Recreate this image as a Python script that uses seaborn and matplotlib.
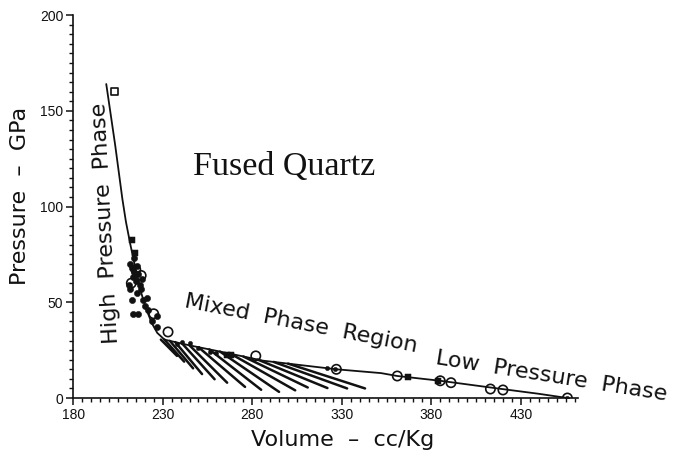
import numpy as np
import pandas as pd
import matplotlib
matplotlib.use("Agg")
import matplotlib.pyplot as plt
import seaborn as sns

# ---------------- data ----------------
hp_curve_v = [198.5, 201, 203.5, 205.5, 207.5, 209.5, 212, 215, 218, 221, 224, 227, 231]
hp_curve_p = [164, 148, 132, 118, 104, 92, 80, 67, 55, 46, 39, 34, 30.5]

lp_curve_v = [231, 245, 266, 286, 327, 352, 361, 385, 417, 440, 456]
lp_curve_p = [30.5, 27.5, 23.5, 19.5, 15, 13, 11.5, 9, 5, 2.2, 0]

# tie lines in the mixed-phase region: start volume on the curve, end point
hatch_v0 = [229, 231, 234, 237, 241, 245, 250, 256, 262, 268, 275, 283, 292, 300]
hatch_v1 = [238, 242, 247, 252, 259, 266, 276, 285, 295, 304, 311, 322, 333, 343]
hatch_p1 = [22, 19, 15.5, 12.5, 9.8, 8, 5.8, 4.3, 3.2, 4, 5.5, 5.2, 5, 5]

open_v = [233, 282, 327, 361, 385, 391, 413, 420, 456, 215, 218, 225, 212.5]
open_p = [34.5, 22, 15, 11.5, 9, 8, 4.7, 4.2, 0, 67, 64, 44, 60]

hp_dots_v = [212, 213, 214, 215.5, 216.5, 213.5, 215, 211, 212, 217.4, 218, 215.8,
             213, 219, 220, 222, 213.5, 216, 227, 227, 224, 221, 218.5, 214]
hp_dots_p = [70, 68, 66, 69, 65, 63, 61, 59, 57, 59, 57, 55,
             51, 51, 48, 46, 44, 44, 43, 37, 40, 52, 62, 73]

mix_dots_v = [238, 241, 245, 250, 256.5, 260, 322, 326, 456]
mix_dots_p = [28, 29, 28.7, 26, 24, 23.5, 15.6, 15, 0]

fsq_v = [213, 214.6, 266, 268, 367, 384]
fsq_p = [82.5, 76, 22.5, 22.3, 11, 9]

osq_v = [203]
osq_p = [160]

x_ticks = [180, 230, 280, 330, 380, 430]
y_ticks = [0, 50, 100, 150, 200]

# ---------------- figure ----------------
sns.set_theme(style="white")
plt.rcParams['font.family'] = ['DejaVu Sans']

fig = plt.figure(figsize=(6.77, 4.51), dpi=100)
ax = fig.add_axes([0.108, 0.1175, 0.746, 0.849])

ink = "#111111"

sns.lineplot(x=hp_curve_v, y=hp_curve_p, sort=False, color=ink, lw=1.3, ax=ax)
sns.lineplot(x=lp_curve_v, y=lp_curve_p, sort=False, color=ink, lw=1.3, ax=ax)

hatch_p0 = np.interp(hatch_v0, lp_curve_v, lp_curve_p)
rows = []
for i, (a, b, c, d) in enumerate(zip(hatch_v0, hatch_p0, hatch_v1, hatch_p1)):
    rows.append(dict(u=i, v=a, p=b))
    rows.append(dict(u=i, v=c, p=d))
hdf = pd.DataFrame(rows)
sns.lineplot(data=hdf, x="v", y="p", units="u", estimator=None, sort=False,
             color=ink, lw=1.8, ax=ax)

sns.scatterplot(x=hp_dots_v, y=hp_dots_p, s=20, color=ink, edgecolor=ink, ax=ax)
sns.scatterplot(x=mix_dots_v, y=mix_dots_p, s=10, color=ink, edgecolor=ink, ax=ax)
sns.scatterplot(x=fsq_v, y=fsq_p, s=20, marker="s", color=ink, edgecolor=ink, ax=ax)
sns.scatterplot(x=open_v, y=open_p, s=45, marker="o", facecolor="none",
                edgecolor=ink, linewidth=1.2, ax=ax)
sns.scatterplot(x=osq_v, y=osq_p, s=30, marker="s", facecolor="none",
                edgecolor=ink, linewidth=1.2, ax=ax)

ax.set_xlim(180, 462)
ax.set_ylim(0, 200)
ax.set_xticks(x_ticks)
ax.set_yticks(y_ticks)
ax.set_xticks(np.arange(180, 462, 5), minor=True)
ax.set_yticks(np.arange(0, 201, 5), minor=True)
ax.set_xticklabels([str(t) for t in x_ticks], fontsize=10, family="Liberation Sans")
ax.set_yticklabels([str(t) for t in y_ticks], fontsize=10, family="Liberation Sans")
ax.tick_params(which="major", direction="out", length=5, width=1.1, color=ink,
               left=True, bottom=True, pad=2, labelcolor=ink)
ax.tick_params(which="minor", direction="out", length=3, width=1.0, color=ink,
               left=True, bottom=True)
sns.despine(ax=ax)
for s in ("left", "bottom"):
    ax.spines[s].set_color(ink)
    ax.spines[s].set_linewidth(1.2)

ax.set_xlabel("Volume  –  cc/Kg", fontsize=16, color=ink)
ax.set_ylabel("Pressure  –  GPa", fontsize=16, color=ink)
ax.xaxis.set_label_coords(0.533, -0.083)
ax.yaxis.set_label_coords(-0.085, 0.527)

ax.text(247, 121, "Fused Quartz", fontsize=24.5, family="Liberation Serif",
        ha="left", va="center", color=ink)
ax.text(198.4, 91.4, "High  Pressure  Phase", fontsize=16, rotation=93,
        ha="center", va="center", color=ink, rotation_mode="anchor")
ax.text(307, 38.6, "Mixed  Phase  Region", fontsize=16, rotation=-11,
        ha="center", va="center", color=ink, rotation_mode="anchor")
ax.text(447, 11.5, "Low  Pressure  Phase", fontsize=16, rotation=-9,
        ha="center", va="center", color=ink, rotation_mode="anchor", clip_on=False)

fig.savefig("out.png", dpi=100)
